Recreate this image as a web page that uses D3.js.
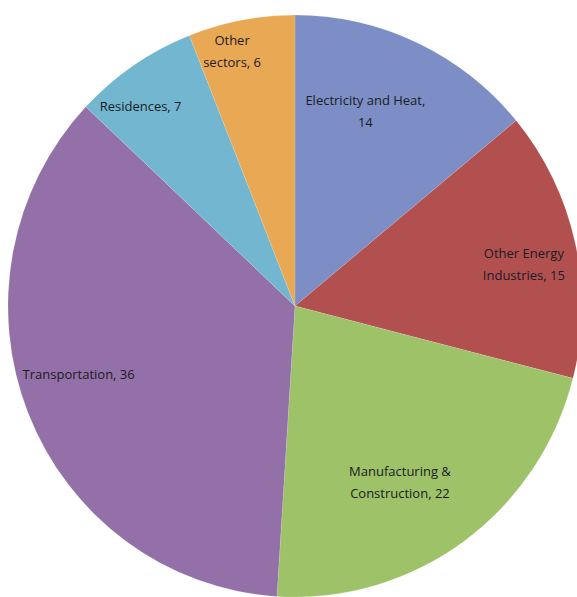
<!DOCTYPE html>
<html>
<head>
<meta charset="utf-8">
<script src="https://cdn.jsdelivr.net/npm/d3@7"></script>
<style>
  body { margin: 0; background: #fff; }
  svg { display: block; }
  .label { font-family: "Open Sans", "Liberation Sans", sans-serif; font-size: 13px; fill: #1b1b26; }
</style>
</head>
<body>
<svg id="chart" width="577" height="597"></svg>
<script>
// sectors, clockwise from 12 o'clock
const sectors = ["Electricity and Heat", "Other Energy Industries", "Manufacturing & Construction",
  "Transportation", "Residences", "Other sectors"]
const shares = [14, 15, 22, 36, 7, 6]
const labelLines = [
  ["Electricity and Heat,", "14"],
  ["Other Energy", "Industries, 15"],
  ["Manufacturing &", "Construction, 22"],
  ["Transportation, 36"],
  ["Residences, 7"],
  ["Other", "sectors, 6"]
]
const sliceColors = ["#7c8ec5", "#b1504e", "#9dc268", "#9470a8", "#73b6cf", "#e9a853"]

// label placement: fraction of radius and angle nudge (degrees)
const labelRadius = [0.71, 0.81, 0.71, 0.79, 0.87, 0.90]
const labelTurn = [-5, 2.5, 5, 4.2, -4, -3.3]

const svg = d3.select('#chart')
const cx = 295, cy = 306, rx = 287, ry = 291

const pie = d3.pie().sort(null).value(d => d.value)
const arcs = pie(shares.map((v, i) => ({ value: v, i: i })))
const arc = d3.arc().innerRadius(0).outerRadius(ry)

const g = svg.append('g')
  .attr('transform', `translate(${cx},${cy}) scale(${rx / ry},1)`)

g.selectAll('path')
  .data(arcs)
  .enter()
  .append('path')
  .attr('fill', d => sliceColors[d.data.i])
  .attr('stroke', '#fff')
  .attr('stroke-width', 0.5)
  .attr('stroke-opacity', 0.25)
  .attr('d', arc)

const labels = svg.append('g')
  .attr('transform', `translate(${cx},${cy})`)

arcs.forEach(d => {
  const i = d.data.i
  const a = (d.startAngle + d.endAngle) / 2 + labelTurn[i] * Math.PI / 180
  const x = Math.sin(a) * rx * labelRadius[i]
  const y = -Math.cos(a) * ry * labelRadius[i]
  const lines = labelLines[i]
  const t = labels.append('text')
    .attr('class', 'label')
    .attr('text-anchor', 'middle')
    .attr('x', x)
    .attr('y', y - (lines.length - 1) * 11 + 4)
  lines.forEach((s, k) => {
    t.append('tspan').attr('x', x).attr('dy', k === 0 ? 0 : 22).text(s)
  })
})
</script>
</body>
</html>
